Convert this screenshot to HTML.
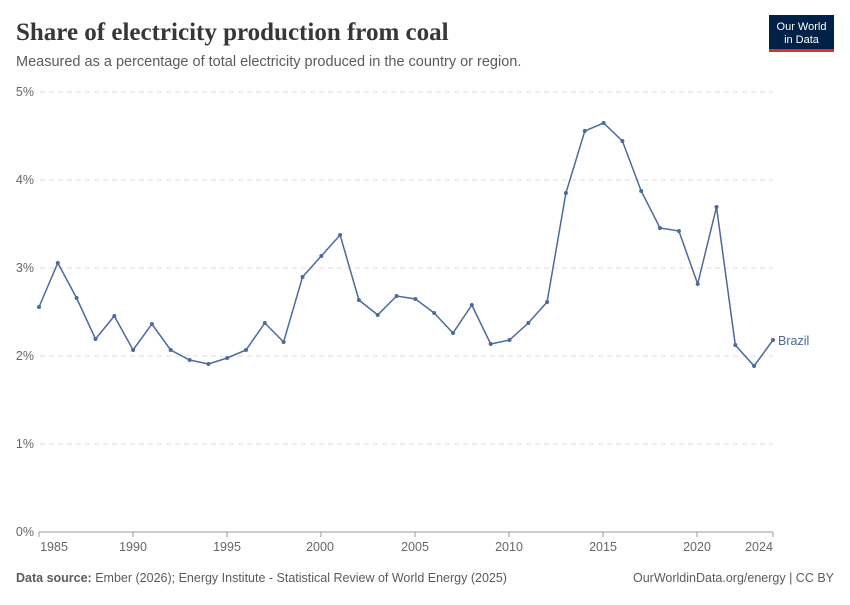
<!DOCTYPE html>
<html><head><meta charset="utf-8"><style>
body{margin:0;background:#fff;width:850px;height:600px;overflow:hidden;font-family:"Liberation Sans",sans-serif;}
</style></head><body>
<svg width="850" height="600" xmlns="http://www.w3.org/2000/svg">
<text x="16" y="40" font-family="Liberation Serif,serif" font-size="25" font-weight="bold" fill="#373737">Share of electricity production from coal</text>
<text x="16" y="66" font-size="14.5" fill="#5b5b5b">Measured as a percentage of total electricity produced in the country or region.</text>
<rect x="769" y="15" width="65" height="37" fill="#002147"/>
<rect x="769" y="49" width="65" height="3" fill="#dc2f2f"/>
<text x="801.5" y="30" font-size="11" fill="#fff" text-anchor="middle">Our World</text>
<text x="801.5" y="43" font-size="11" fill="#fff" text-anchor="middle">in Data</text>
<g stroke="#ddd" stroke-dasharray="5,4" stroke-width="1">
<line x1="40" x2="773" y1="92" y2="92"/><line x1="40" x2="773" y1="180" y2="180"/>
<line x1="40" x2="773" y1="268" y2="268"/><line x1="40" x2="773" y1="356" y2="356"/>
<line x1="40" x2="773" y1="444" y2="444"/></g>
<line x1="39" x2="773" y1="532" y2="532" stroke="#999"/>
<g font-size="12.5" fill="#666" text-anchor="end">
<text x="34" y="96">5%</text><text x="34" y="184">4%</text><text x="34" y="272">3%</text>
<text x="34" y="360">2%</text><text x="34" y="448">1%</text><text x="34" y="536">0%</text></g>
<g font-size="12.5" fill="#666" text-anchor="middle">
<text x="54" y="551">1985</text><text x="133" y="551">1990</text><text x="227" y="551">1995</text>
<text x="320" y="551">2000</text><text x="415" y="551">2005</text><text x="509" y="551">2010</text>
<text x="603" y="551">2015</text><text x="697" y="551">2020</text><text x="759" y="551">2024</text></g>
<g stroke="#999"><line x1="39" x2="39" y1="532" y2="537"/><line x1="133" x2="133" y1="532" y2="537"/><line x1="227" x2="227" y1="532" y2="537"/><line x1="321" x2="321" y1="532" y2="537"/><line x1="415" x2="415" y1="532" y2="537"/><line x1="509" x2="509" y1="532" y2="537"/><line x1="603" x2="603" y1="532" y2="537"/><line x1="697" x2="697" y1="532" y2="537"/><line x1="773" x2="773" y1="532" y2="537"/></g>
<polyline id="l" fill="none" stroke="#4c6a9c" stroke-width="1.5" points="39,307 57.8,263 76.6,298 95.5,339 114.3,316 133.1,350 151.9,324 170.7,350 189.6,360 208.4,364 227.2,358 246,350 264.8,323 283.6,342 302.5,277 321.3,256 340.1,235 358.9,300 377.7,315 396.6,296 415.4,299 434.2,313 453,333 471.8,305 490.7,344 509.5,340 528.3,323 547.1,302 565.9,193 584.8,131 603.6,123 622.4,141 641.2,191 660,228 678.9,231 697.7,284 716.5,207 735.3,345 754.1,366 773,340"/>
<g fill="#4c6a9c">
<circle cx="39" cy="307" r="2"/><circle cx="57.8" cy="263" r="2"/><circle cx="76.6" cy="298" r="2"/><circle cx="95.5" cy="339" r="2"/><circle cx="114.3" cy="316" r="2"/><circle cx="133.1" cy="350" r="2"/><circle cx="151.9" cy="324" r="2"/><circle cx="170.7" cy="350" r="2"/><circle cx="189.6" cy="360" r="2"/><circle cx="208.4" cy="364" r="2"/><circle cx="227.2" cy="358" r="2"/><circle cx="246" cy="350" r="2"/><circle cx="264.8" cy="323" r="2"/><circle cx="283.6" cy="342" r="2"/><circle cx="302.5" cy="277" r="2"/><circle cx="321.3" cy="256" r="2"/><circle cx="340.1" cy="235" r="2"/><circle cx="358.9" cy="300" r="2"/><circle cx="377.7" cy="315" r="2"/><circle cx="396.6" cy="296" r="2"/><circle cx="415.4" cy="299" r="2"/><circle cx="434.2" cy="313" r="2"/><circle cx="453" cy="333" r="2"/><circle cx="471.8" cy="305" r="2"/><circle cx="490.7" cy="344" r="2"/><circle cx="509.5" cy="340" r="2"/><circle cx="528.3" cy="323" r="2"/><circle cx="547.1" cy="302" r="2"/><circle cx="565.9" cy="193" r="2"/><circle cx="584.8" cy="131" r="2"/><circle cx="603.6" cy="123" r="2"/><circle cx="622.4" cy="141" r="2"/><circle cx="641.2" cy="191" r="2"/><circle cx="660" cy="228" r="2"/><circle cx="678.9" cy="231" r="2"/><circle cx="697.7" cy="284" r="2"/><circle cx="716.5" cy="207" r="2"/><circle cx="735.3" cy="345" r="2"/><circle cx="754.1" cy="366" r="2"/><circle cx="773" cy="340" r="2"/></g>
<text x="778" y="345" font-size="12.5" fill="#4c6a9c">Brazil</text>
<text x="16" y="582" font-size="12.5" fill="#5b5b5b"><tspan font-weight="bold">Data source:</tspan> Ember (2026); Energy Institute - Statistical Review of World Energy (2025)</text>
<text x="834" y="582" font-size="12.5" fill="#5b5b5b" text-anchor="end">OurWorldinData.org/energy | CC BY</text>
</svg>
</body></html>
